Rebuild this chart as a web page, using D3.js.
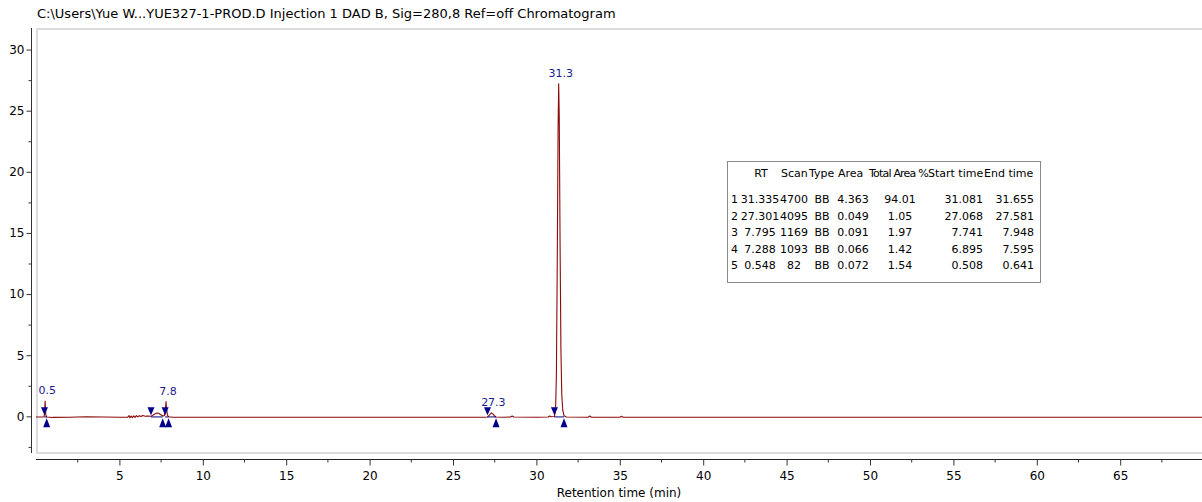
<!DOCTYPE html>
<html>
<head>
<meta charset="utf-8">
<script src="https://cdn.jsdelivr.net/npm/d3@7/dist/d3.min.js"></script>
<style>
  html, body { margin: 0; padding: 0; background: #ffffff; }
  svg { display: block; font-family: "DejaVu Sans", Verdana, sans-serif; }
</style>
</head>
<body>
<svg id="chart" width="1202" height="502"></svg>
<script>
// Chromatogram title and axis labels
const chartTitle = "C:\\Users\\Yue W...YUE327-1-PROD.D Injection 1 DAD B, Sig=280,8 Ref=off Chromatogram";
const xAxisTitle = "Retention time (min)";
const xTicks = [5, 10, 15, 20, 25, 30, 35, 40, 45, 50, 55, 60, 65];
const yTicks = [0, 5, 10, 15, 20, 25, 30];

// DAD B signal, [time (min), absorbance]
const signal = [
  [0.00, -0.06], [0.40, -0.06], [0.48, -0.04], [0.52, 0.30], [0.545, 1.25], [0.56, 0.90],
  [0.59, 0.10], [0.64, -0.05], [1.00, -0.09], [2.00, -0.07], [3.00, -0.04], [4.00, -0.05],
  [5.00, -0.07], [5.50, -0.07], [5.58, 0.06], [5.63, -0.12], [5.70, 0.02], [5.78, -0.10],
  [5.86, 0.04], [5.94, -0.08], [6.02, 0.06], [6.10, -0.04], [6.20, 0.05], [6.30, -0.02],
  [6.40, 0.06], [6.55, 0.00], [6.70, 0.02], [6.90, 0.00], [7.00, 0.08], [7.10, 0.17],
  [7.20, 0.24], [7.29, 0.27], [7.38, 0.23], [7.48, 0.13], [7.595, 0.04], [7.70, 0.05],
  [7.75, 0.40], [7.795, 1.20], [7.83, 0.60], [7.88, 0.10], [7.95, -0.04], [8.20, -0.08],
  [9.00, -0.07], [10.0, -0.08], [12.0, -0.07], [15.0, -0.08], [18.0, -0.07], [20.0, -0.08],
  [22.0, -0.07], [24.0, -0.08], [26.0, -0.07], [26.9, -0.07], [27.07, -0.05], [27.18, 0.10],
  [27.30, 0.28], [27.40, 0.18], [27.50, 0.02], [27.58, -0.05], [28.0, -0.07], [28.45, -0.06],
  [28.55, 0.03], [28.65, -0.06], [30.0, -0.07], [30.70, -0.06], [30.80, 0.02], [30.88, -0.04],
  [31.08, -0.02], [31.15, 0.50], [31.20, 3.50], [31.25, 12.5], [31.30, 23.5], [31.335, 27.2],
  [31.37, 24.5], [31.42, 14.0], [31.47, 5.50], [31.52, 1.80], [31.58, 0.50], [31.655, 0.05],
  [31.80, -0.06], [33.1, -0.07], [33.2, 0.02], [33.3, -0.07], [35.0, -0.07], [35.1, 0.00],
  [35.2, -0.07], [40.0, -0.08], [45.0, -0.07], [50.0, -0.08], [55.0, -0.07], [60.0, -0.08],
  [65.0, -0.08], [70.0, -0.08]
];

// Integration results
const peakNo       = [1, 2, 3, 4, 5];
const peakRT       = [31.335, 27.301, 7.795, 7.288, 0.548];
const peakScan     = [4700, 4095, 1169, 1093, 82];
const peakType     = ["BB", "BB", "BB", "BB", "BB"];
const peakArea     = [4.363, 0.049, 0.091, 0.066, 0.072];
const peakAreaPct  = [94.01, 1.05, 1.97, 1.42, 1.54];
const peakStart    = [31.081, 27.068, 7.741, 6.895, 0.508];
const peakEnd      = [31.655, 27.581, 7.948, 7.595, 0.641];
const peakLabelled = [true, true, true, false, true];
const tableHeaders = ["RT", "Scan", "Type", "Area", "Total Area %", "Start time", "End time"];

const svg = d3.select("#chart");

const x = d3.scaleLinear().domain([0, 70]).range([36, 1203.6]);
const y = d3.scaleLinear().domain([-3, 31.6]).range([453, 30]);

// title
svg.append("text")
  .attr("x", 37).attr("y", 18)
  .attr("font-size", 13).attr("fill", "#000")
  .text(chartTitle);

// plot frame
svg.append("rect")
  .attr("x", 37).attr("y", 29)
  .attr("width", 1175).attr("height", 424)
  .attr("fill", "none").attr("stroke", "#dcdcdc").attr("stroke-width", 2);

// y axis
const yAxis = d3.axisLeft(y).tickValues(yTicks).tickSize(5).tickPadding(2).tickFormat(d3.format("d"));
const gy = svg.append("g").attr("transform", "translate(31.5,0)").call(yAxis);
gy.select(".domain").attr("d", `M0,${y.range()[1] - 2}V${y.range()[0]}`).attr("stroke", "#333");
gy.selectAll(".tick line").attr("stroke", "#333");
gy.selectAll(".tick text").attr("font-size", 12).attr("font-family", "DejaVu Sans, sans-serif").attr("fill", "#000");
const yMinor = d3.range(-2.5, 30, 5);
gy.selectAll(".minor").data(yMinor).enter().append("line")
  .attr("class", "minor")
  .attr("x1", -3).attr("x2", 0)
  .attr("y1", d => y(d) + 0.5).attr("y2", d => y(d) + 0.5)
  .attr("stroke", "#333");

// x axis
const xAxis = d3.axisBottom(x).tickValues(xTicks).tickSize(6).tickPadding(6).tickFormat(d3.format("d"));
const gx = svg.append("g").attr("transform", "translate(0,459.5)").call(xAxis);
gx.select(".domain").attr("d", `M${x(0)},0H1202`).attr("stroke", "#222");
gx.selectAll(".tick line").attr("stroke", "#333");
gx.selectAll(".tick text").attr("font-size", 12).attr("font-family", "DejaVu Sans, sans-serif").attr("fill", "#000");
const xMinor = d3.range(2.5, 70, 5);
gx.selectAll(".minor").data(xMinor).enter().append("line")
  .attr("class", "minor")
  .attr("x1", d => x(d)).attr("x2", d => x(d))
  .attr("y1", 0).attr("y2", 3)
  .attr("stroke", "#333");

svg.append("text")
  .attr("x", (x(0) + 1202) / 2).attr("y", 497)
  .attr("text-anchor", "middle")
  .attr("font-size", 12).attr("fill", "#000")
  .text(xAxisTitle);

// signal trace
const line = d3.line().x(d => x(d[0])).y(d => y(d[1]));
svg.append("path")
  .datum(signal)
  .attr("d", line)
  .attr("fill", "none")
  .attr("stroke", "#8b0a0a")
  .attr("stroke-width", 1.1)
  .attr("stroke-linejoin", "round");

// integration baselines and start/end markers
const peaks = peakNo.map((n, i) => ({
  n, rt: peakRT[i], start: peakStart[i], end: peakEnd[i], labelled: peakLabelled[i],
  apex: d3.max(signal.filter(d => d[0] >= peakStart[i] && d[0] <= peakEnd[i]), d => d[1])
}));

const marks = svg.append("g");
peaks.forEach(p => {
  marks.append("line")
    .attr("x1", x(p.start)).attr("x2", x(p.end))
    .attr("y1", y(-0.05)).attr("y2", y(-0.05))
    .attr("stroke", "#000080").attr("stroke-width", 1);
  const xs = x(p.start), xe = x(p.end), y0 = y(0);
  marks.append("path")
    .attr("d", `M${xs - 3.5},${y0 - 9}L${xs + 3.5},${y0 - 9}L${xs},${y0 - 1}Z`)
    .attr("fill", "#00008b");
  marks.append("path")
    .attr("d", `M${xe - 3.5},${y0 + 11}L${xe + 3.5},${y0 + 11}L${xe},${y0 + 2}Z`)
    .attr("fill", "#00008b");
});

// retention time labels
svg.append("g").selectAll("text")
  .data(peaks.filter(p => p.labelled))
  .enter().append("text")
  .attr("x", p => x(p.rt) + 2)
  .attr("y", p => y(p.apex) - 7)
  .attr("text-anchor", "middle")
  .attr("font-size", 11)
  .attr("fill", "#1a1a8f")
  .text(p => d3.format(".1f")(p.rt));

// peak table
const table = svg.append("g").attr("font-size", 11).attr("fill", "#000");
table.append("rect")
  .attr("x", 727.5).attr("y", 161.5).attr("width", 313).attr("height", 121)
  .attr("fill", "#fff").attr("stroke", "#8a8a8a").attr("stroke-width", 1);

const headerPos = [
  { x: 761, anchor: "middle" }, { x: 781, anchor: "start" }, { x: 809, anchor: "start" },
  { x: 838, anchor: "start" }, { x: 869, anchor: "start" }, { x: 928, anchor: "start" },
  { x: 984, anchor: "start" }
];
tableHeaders.forEach((h, i) => {
  const t = table.append("text")
    .attr("x", headerPos[i].x).attr("y", 177)
    .attr("text-anchor", headerPos[i].anchor)
    .text(h);
  if (h === "Total Area %") t.attr("letter-spacing", -0.8);
});

const fmt3 = d3.format(".3f"), fmt2 = d3.format(".2f");
const cols = [
  { x: 731, anchor: "start",  v: i => peakNo[i] },
  { x: 760, anchor: "middle", v: i => fmt3(peakRT[i]) },
  { x: 794, anchor: "middle", v: i => peakScan[i] },
  { x: 822, anchor: "middle", v: i => peakType[i] },
  { x: 853, anchor: "middle", v: i => fmt3(peakArea[i]) },
  { x: 900, anchor: "middle", v: i => fmt2(peakAreaPct[i]) },
  { x: 983, anchor: "end",    v: i => fmt3(peakStart[i]) },
  { x: 1034, anchor: "end",   v: i => fmt3(peakEnd[i]) }
];
peakNo.forEach((n, i) => {
  const yy = 203 + i * 16.6;
  cols.forEach(c => {
    table.append("text")
      .attr("x", c.x).attr("y", yy)
      .attr("text-anchor", c.anchor)
      .text(c.v(i));
  });
});
</script>
</body>
</html>
